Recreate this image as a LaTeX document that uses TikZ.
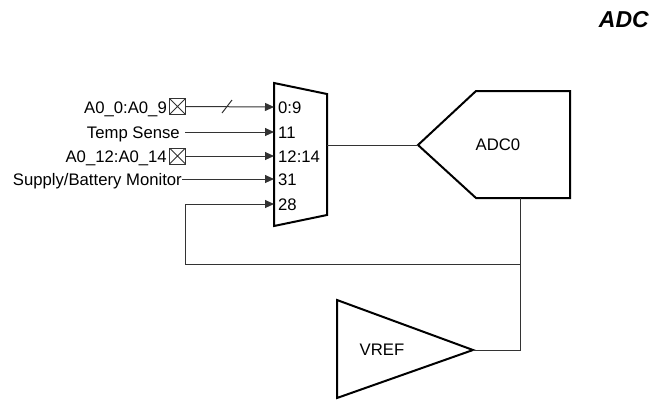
\documentclass[tikz,border=0pt]{standalone}
\usepackage{fontspec}
\setmainfont{Liberation Sans}
\usetikzlibrary{arrows.meta}
\begin{document}
\begin{tikzpicture}[x=1pt,y=-1pt,
  lbl/.style={font=\fontsize{16.7}{18}\selectfont, inner sep=0pt},
  conn/.style={line width=1pt, draw=black!80},
  arr/.style={-{Triangle[length=9pt,width=8pt]}},
  shp/.style={line width=2pt, draw=black, line join=miter},
  xbox/.style={draw=black!80, line width=1pt, minimum size=16pt, inner sep=0pt,
    path picture={\draw[black!80,line width=0.8pt] (path picture bounding box.north west) -- (path picture bounding box.south east)
      (path picture bounding box.south west) -- (path picture bounding box.north east);}}]
\useasboundingbox (0,0) rectangle (651,400);

% title
\node[anchor=base east, inner sep=0pt, font=\fontsize{23}{26}\selectfont\bfseries\itshape] (title) at (649,27.5) {ADC};

% multiplexer
\draw[shp] (274,83) -- (327,94) -- (327,215) -- (274,226) -- cycle;
\coordinate (p09) at (274,107);
\coordinate (p11) at (274,132);
\coordinate (p1214) at (274,156);
\coordinate (p31) at (274,179);
\coordinate (p28) at (274,204);
\coordinate (muxout) at (327,145);
\node[lbl, anchor=base west] (n09) at (278,113) {0:9};
\node[lbl, anchor=base west] (n11) at (278,138) {11};
\node[lbl, anchor=base west] (n1214) at (278,162) {12:14};
\node[lbl, anchor=base west] (n31) at (278,185) {31};
\node[lbl, anchor=base west] (n28) at (278,210) {28};

% inputs
\node[lbl, anchor=base east] (a09) at (167,113) {A0\_0:A0\_9};
\node[xbox] (b09) at (177.5,106.5) {};
\draw[conn,arr] (b09.east) -- (p09);
\draw[conn] (222,113) -- (232,100);

\node[lbl, anchor=base east] (ts) at (180,138) {Temp Sense};
\draw[conn,arr] ([xshift=5pt]ts.base east |- p11) -- (p11);

\node[lbl, anchor=base east] (a1214) at (167,162) {A0\_12:A0\_14};
\node[xbox] (b1214) at (177.5,156) {};
\draw[conn,arr] (b1214.east) -- (p1214);

\node[lbl, anchor=base east] (sbm) at (182,185) {Supply/Battery Monitor};
\draw[conn,arr] (sbm.base east |- p31) -- (p31);

% ADC0
\draw[shp] (418,145) -- (476,91) -- (570,91) -- (570,198) -- (476,198) -- cycle;
\node[lbl] (adc) at (498,145) {ADC0};
\coordinate (adcin) at (418,145);
\coordinate (adcbot) at (520,198);
\draw[conn] (muxout) -- (adcin);

% VREF
\draw[shp] (337,300) -- (473,350) -- (337,398) -- cycle;
\node[lbl] (vref) at (382,350) {VREF};
\coordinate (vout) at (473,350);

% feedback
\coordinate (junc) at (520,264);
\coordinate (fbc) at (185,264);
\draw[conn] (adcbot) -- (junc);
\draw[conn] (vout) -| (junc);
\draw[conn,arr] (junc) -- (fbc) |- (p28);
\end{tikzpicture}
\end{document}
